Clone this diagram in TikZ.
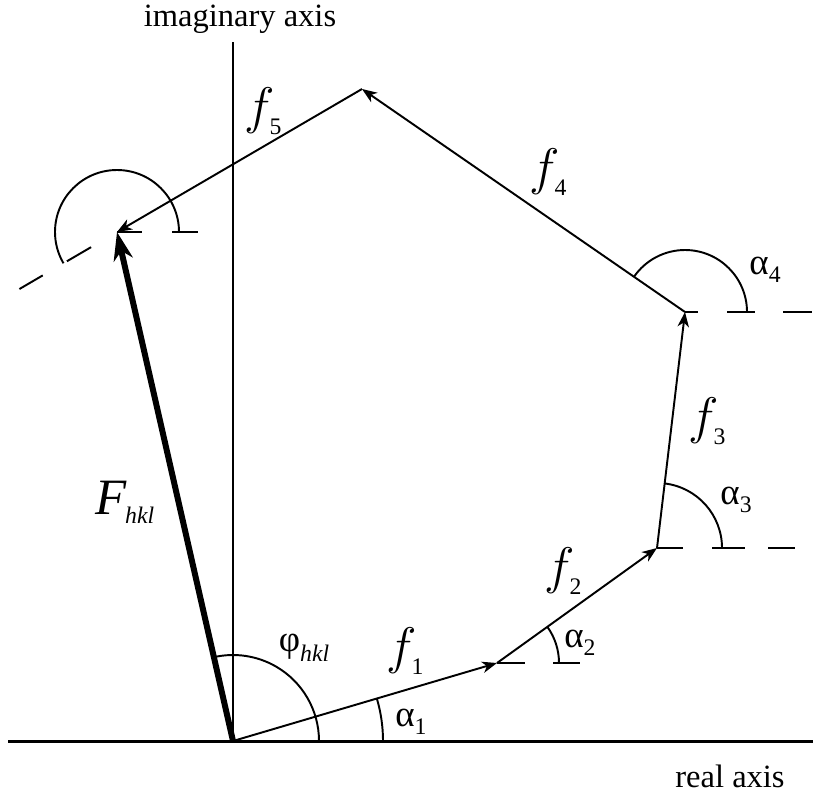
\RequirePackage{fix-cm}
\documentclass[tikz,border=0pt]{standalone}
\usepackage{graphicx}
\usepackage{fontspec}
\setmainfont{Liberation Serif}
\usetikzlibrary{arrows.meta,calc}
\newcommand\flab[2]{\scalebox{1.22}{\fontsize{24}{24}\selectfont$#1$}\kern-3pt\raisebox{-6.5pt}{\fontsize{13.5}{13.5}\selectfont #2}}
\newcommand\alab[1]{{\fontsize{21}{21}\selectfont α}\raisebox{-4.5pt}{\fontsize{13.5}{13.5}\selectfont #1}}
\begin{document}
\begin{tikzpicture}[x=0.02cm,y=0.02cm,
  thin line/.style={line width=1.1pt},
  vec/.style={line width=1.1pt,-{Stealth[length=8.5pt,width=6.5pt,inset=2.5pt]}},
  bigvec/.style={line width=3.4pt,-{Stealth[length=16pt,width=11pt,inset=5pt]}},
  refdash/.style={line width=1.1pt},
  anglearc/.style={line width=1.1pt},
  lbl/.style={inner sep=0pt},
  axislbl/.style={inner sep=0pt,font=\fontsize{18.5}{18.5}\selectfont}]
\useasboundingbox (0,0) rectangle (813,796);
% points
\coordinate (O) at (233,55);
\coordinate (P1) at (497,133);
\coordinate (P2) at (657,248);
\coordinate (P3) at (685,484);
\coordinate (P4) at (362,707);
\coordinate (P5) at (117,564);
\coordinate (RA0) at (8,55);
\coordinate (RA1) at (813,55);
\coordinate (IA1) at (233,754);
% axes
\draw[line width=1.7pt] (RA0) -- (RA1);
\draw[thin line] (O) -- (IA1);
% reference dashes
\draw[refdash] (P1) -- ++(28,0) ++(28,0) -- ++(27,0);
\draw[refdash] (P2) -- ++(26,0) ++(29,0) -- ++(33,0) ++(23,0) -- ++(27,0);
\draw[refdash] (P3) -- ++(13,0) ++(29,0) -- ++(28,0) ++(28,0) -- ++(29,0);
\draw[refdash] (P5) -- ++(25,0) ++(30,0) -- ++(26,0);
\draw[refdash] (P5) ++(210.3:30) -- ++(210.3:28) ++(210.3:28) -- ++(210.3:27);
% angle arcs
\draw[anglearc] (O) ++(0:150) arc[start angle=0,end angle=16.46,radius=150];
\draw[anglearc] (O) ++(0:86) arc[start angle=0,end angle=102.8,radius=86];
\draw[anglearc] (P1) ++(0:62) arc[start angle=0,end angle=35.7,radius=62];
\draw[anglearc] (P2) ++(0:65) arc[start angle=0,end angle=83.2,radius=65];
\draw[anglearc] (P3) ++(0:62) arc[start angle=0,end angle=145.4,radius=62];
\draw[anglearc] (P5) ++(0:62) arc[start angle=0,end angle=210.3,radius=62];
% vectors
\draw[vec] (O) -- (P1);
\draw[vec] (P1) -- (P2);
\draw[vec] (P2) -- (P3);
\draw[vec] (P3) -- (P4);
\draw[vec] (P4) -- (P5);
\draw[bigvec] (O) -- (P5);
% labels
\node[axislbl,anchor=base] (tIm) at (240,769) {imaginary axis};
\node[axislbl,anchor=base] (tRe) at (730,9) {real axis};
\node[lbl] (lf5) at (263,685) {\flab{f}{5}};
\node[lbl] (lf4) at (548,624) {\flab{f}{4}};
\node[lbl] (lf3) at (707,375) {\flab{f}{3}};
\node[lbl] (lf2) at (563,225) {\flab{f}{2}};
\node[lbl] (lf1) at (405,145) {\flab{f}{1}};
\node[lbl] (lF) at (125,294) {{\fontsize{29}{29}\selectfont\itshape F}\kern-1pt\raisebox{-5pt}{\fontsize{13.5}{13.5}\selectfont\itshape hkl}};
\node[lbl] (lphi) at (304,148) {{\fontsize{21}{21}\selectfont φ}\raisebox{-5.5pt}{\fontsize{13.5}{13.5}\selectfont\itshape hkl}};
\node[lbl] (la1) at (411,74) {\alab{1}};
\node[lbl] (la2) at (580,153) {\alab{2}};
\node[lbl] (la3) at (736,296) {\alab{3}};
\node[lbl] (la4) at (765,526) {\alab{4}};
\end{tikzpicture}
\end{document}
